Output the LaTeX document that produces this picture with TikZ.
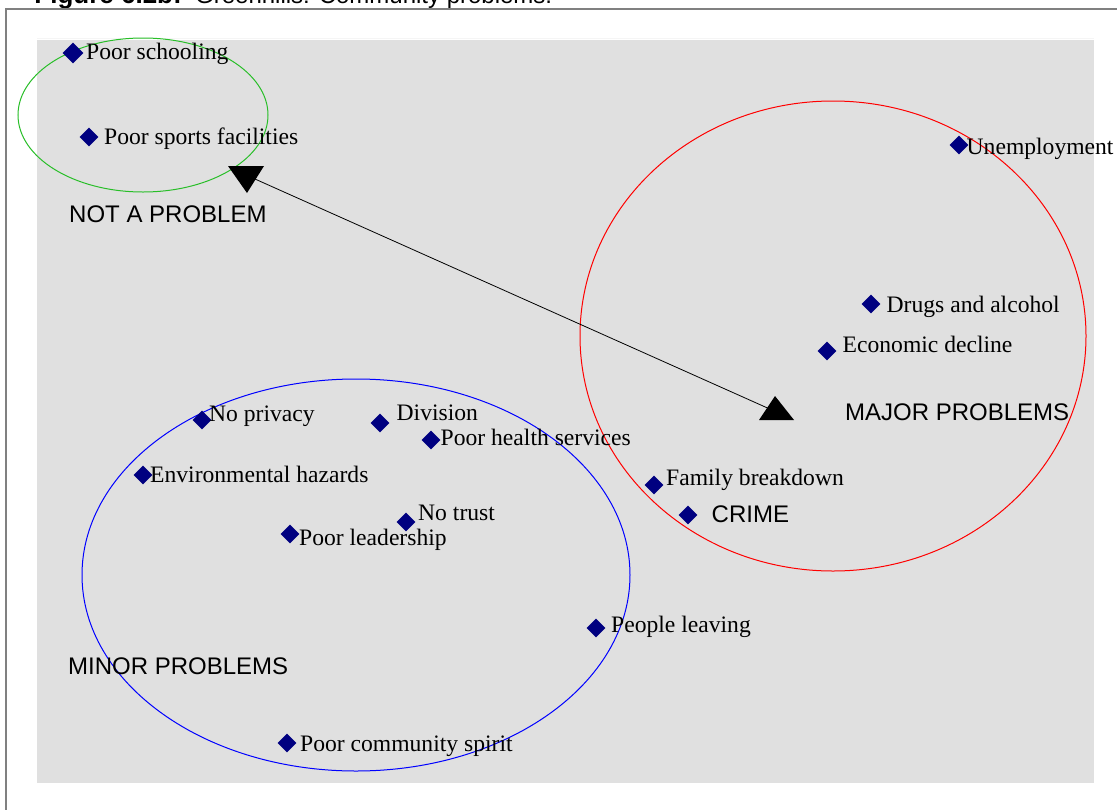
\documentclass[tikz,border=0pt]{standalone}
\usepackage{fontspec}
\setmainfont{Liberation Serif}
\setsansfont{Liberation Sans}
\usetikzlibrary{shapes.geometric}
\definecolor{navy}{RGB}{0,0,128}
\definecolor{plotbg}{RGB}{224,224,224}
\definecolor{framegray}{RGB}{128,128,128}
\definecolor{okgreen}{RGB}{40,190,40}
\tikzset{
  marker/.style={diamond, fill=navy, inner sep=0pt, minimum width=19pt, minimum height=19pt},
  item/.style={anchor=base west, inner sep=0pt, font=\fontsize{23.6}{28}\selectfont},
  group/.style={anchor=base west, inner sep=0pt, font=\sffamily\fontsize{24}{28}\selectfont},
  ring/.style={line width=1pt},
  head/.style={fill=black}
}
\begin{document}
\begin{tikzpicture}[x=1pt,y=-1pt]
\useasboundingbox (0,0) rectangle (1117,809);
\fill[white] (0,0) rectangle (1117,809);
% caption, partly above the page
\node[anchor=base east, inner sep=0pt, font=\sffamily\bfseries\fontsize{26}{30}\selectfont] (capA) at (182,3.5) {Figure 6.2b:};
\node[anchor=base west, inner sep=0pt, font=\sffamily\fontsize{24}{28}\selectfont] (capB) at (195,3.5) {Greenhills: Community problems.};
% outer frame
\draw[framegray, line width=2pt] (6,1000) -- (6,8.5) -- (1300,8.5);
% plot area
\draw[white!96!black, line width=1pt] (37,38) -- (1094,38);
\fill[plotbg] (37,40) rectangle (1094,783);

% group ellipses
\draw[ring, okgreen] (143,115) ellipse [x radius=125, y radius=77];
\draw[ring, red] (833,336) ellipse [x radius=253, y radius=235];
\draw[ring, blue] (356,575) ellipse [x radius=274, y radius=196];

% double-headed scale arrow
\coordinate (top) at (246,175);
\coordinate (bot) at (772,410);
\draw[line width=0.8pt] (top) -- (bot);
\fill[head] (228,166) -- (264,166) -- (247,193) -- cycle;
\fill[head] (759,420) -- (794,420) -- (775,396) -- cycle;

% markers
\node[marker, minimum width=21pt, minimum height=21pt] (d1) at (73,53) {};
\node[marker] (d2) at (89,137) {};
\node[marker] (d3) at (959,145) {};
\node[marker] (d4) at (871,304) {};
\node[marker] (d5) at (827,351) {};
\node[marker] (d6) at (202,420) {};
\node[marker] (d7) at (380,423) {};
\node[marker] (d8) at (431,440) {};
\node[marker] (d9) at (143,475) {};
\node[marker] (d10) at (406,522) {};
\node[marker] (d11) at (290,534) {};
\node[marker] (d12) at (654,485) {};
\node[marker] (d13) at (688,515) {};
\node[marker] (d14) at (596,628) {};
\node[marker] (d15) at (287,743) {};

% item labels
\node[item] (t1) at (86,59.5) {Poor schooling};
\node[item] (t2) at (104,144) {Poor sports facilities};
\node[item] (t3) at (966.5,154) {Unemployment};
\node[item] (t4) at (886.5,312) {Drugs and alcohol};
\node[item] (t5) at (842.5,352) {Economic decline};
\node[item] (t6) at (209,421.5) {No privacy};
\node[item] (t7) at (396.5,420.5) {Division};
\node[item] (t8) at (440.5,445) {Poor health services};
\node[item] (t9) at (150,482) {Environmental hazards};
\node[item] (t10) at (418,520) {No trust};
\node[item] (t11) at (299,545.5) {Poor leadership};
\node[item] (t12) at (666,485) {Family breakdown};
\node[group] (t13) at (711.5,522.5) {CRIME};
\node[item] (t14) at (611,632) {People leaving};
\node[item] (t15) at (300,751.5) {Poor community spirit};

% group labels
\node[group] (g1) at (69,222.5) {NOT A PROBLEM};
\node[group] (g2) at (845,420) {MAJOR PROBLEMS};
\node[group] (g3) at (68,674.5) {MINOR PROBLEMS};
\end{tikzpicture}
\end{document}
